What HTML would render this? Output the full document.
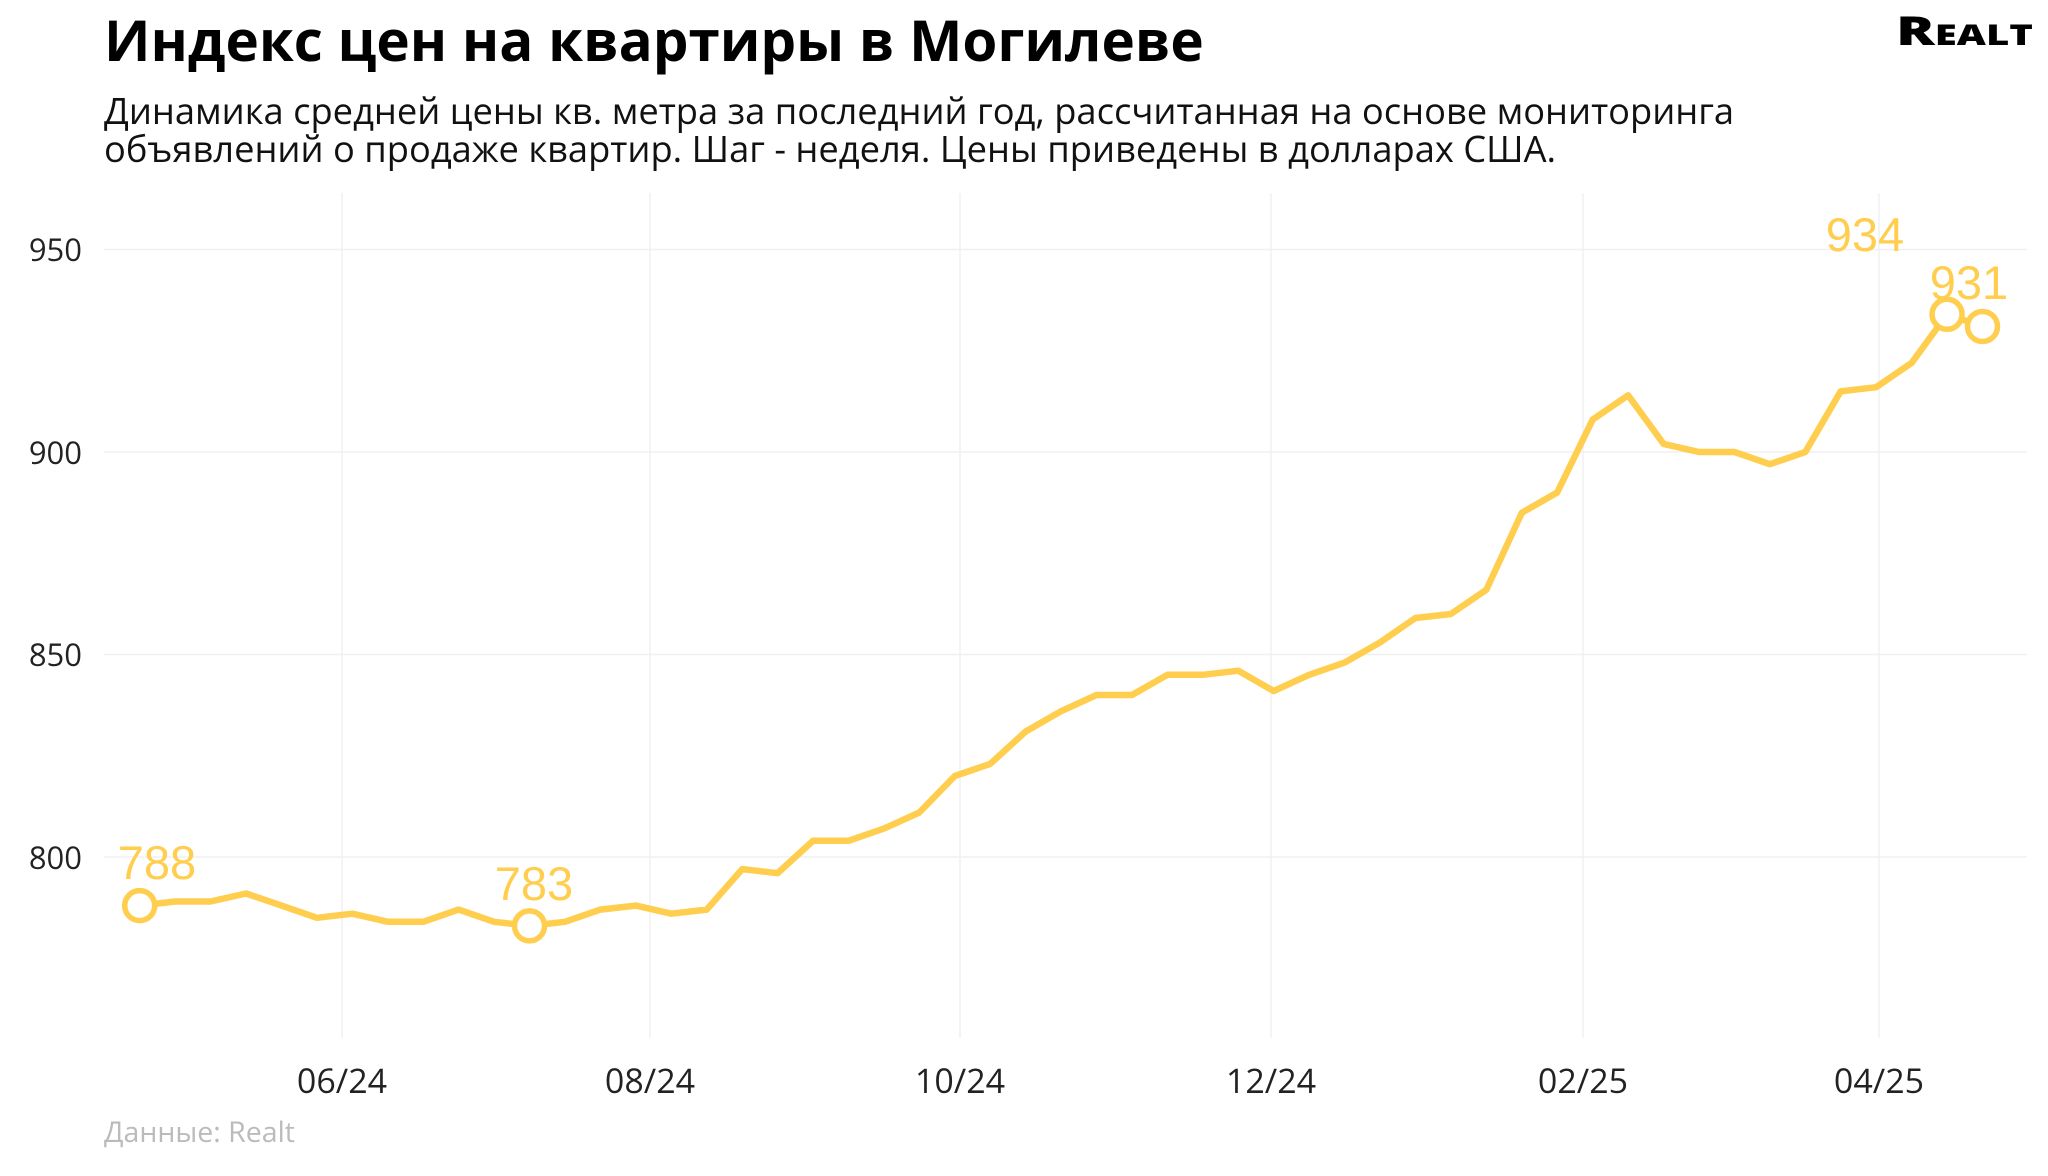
<!DOCTYPE html>
<html><head><meta charset="utf-8"><style>
body{margin:0;background:#fff;}
svg text{font-family:"Open Sans","Liberation Sans",sans-serif;}
</style></head><body>
<svg width="2048" height="1171" xmlns="http://www.w3.org/2000/svg">
<rect width="2048" height="1171" fill="#fff"/>
<text x="104" y="61" font-size="56.5" font-weight="bold" fill="#000">Индекс цен на квартиры в Могилеве</text>
<text x="1896" y="45" font-size="40" font-weight="900" fill="#000" style="font-variant:small-caps" textLength="137" lengthAdjust="spacingAndGlyphs">Realt</text>
<text x="104" y="124" font-size="36.3" fill="#111">Динамика средней цены кв. метра за последний год, рассчитанная на основе мониторинга</text>
<text x="104" y="162" font-size="36.3" fill="#111">объявлений о продаже квартир. Шаг - неделя. Цены приведены в долларах США.</text>
<g stroke="#f0f0f0" stroke-width="1.5">
<line x1="104" x2="2027" y1="249.5" y2="249.5"/><line x1="104" x2="2027" y1="452" y2="452"/>
<line x1="104" x2="2027" y1="654.5" y2="654.5"/><line x1="104" x2="2027" y1="857" y2="857"/>
<line x1="342" x2="342" y1="193" y2="1038"/><line x1="650" x2="650" y1="193" y2="1038"/>
<line x1="960" x2="960" y1="193" y2="1038"/><line x1="1271" x2="1271" y1="193" y2="1038"/>
<line x1="1583" x2="1583" y1="193" y2="1038"/><line x1="1879" x2="1879" y1="193" y2="1038"/>
</g>
<g font-size="31" fill="#222" text-anchor="end">
<text x="82" y="261">950</text><text x="82" y="464">900</text><text x="82" y="666">850</text><text x="82" y="869">800</text>
</g>
<g font-size="34" fill="#222" text-anchor="middle">
<text x="342" y="1093">06/24</text><text x="650" y="1093">08/24</text><text x="960" y="1093">10/24</text>
<text x="1271" y="1093">12/24</text><text x="1583" y="1093">02/25</text><text x="1879" y="1093">04/25</text>
</g>
<text x="104" y="1142" font-size="28.5" fill="#bbb">Данные: Realt</text>
<polyline id="ln" fill="none" stroke="#ffce4f" stroke-width="6.5" stroke-linejoin="round" points=""/>
<g fill="#fff" stroke="#ffce4f" stroke-width="5.5" id="cs"></g>
<g font-size="47" fill="#ffce4f" text-anchor="middle">
<text x="157" y="879" style="font-family:'Liberation Sans',sans-serif">788</text>
<text x="534" y="900" style="font-family:'Liberation Sans',sans-serif">783</text>
<text x="1865" y="251" style="font-family:'Liberation Sans',sans-serif">934</text>
<text x="1969" y="299" style="font-family:'Liberation Sans',sans-serif">931</text>
</g>
</svg>
<script>
var v=[788,789,789,791,788,785,786,784,784,787,784,783,784,787,788,786,787,797,796,804,804,807,811,820,823,831,836,840,840,845,845,846,841,845,848,853,859,860,866,885,890,908,914,902,900,900,897,900,915,916,922,934,931];
var p=[];function X(i){return 139.7+i*(1982.5-139.7)/52}function Y(a){return 857-(a-800)*4.05}
v.forEach(function(a,i){p.push(X(i).toFixed(1)+','+Y(a).toFixed(1))});
document.getElementById('ln').setAttribute('points',p.join(' '));
var cs=document.getElementById('cs'),ns='http://www.w3.org/2000/svg';
[0,11,51,52].forEach(function(i){var c=document.createElementNS(ns,'circle');c.setAttribute('cx',X(i));c.setAttribute('cy',Y(v[i]));c.setAttribute('r',15);cs.appendChild(c);});
</script>
</body></html>
